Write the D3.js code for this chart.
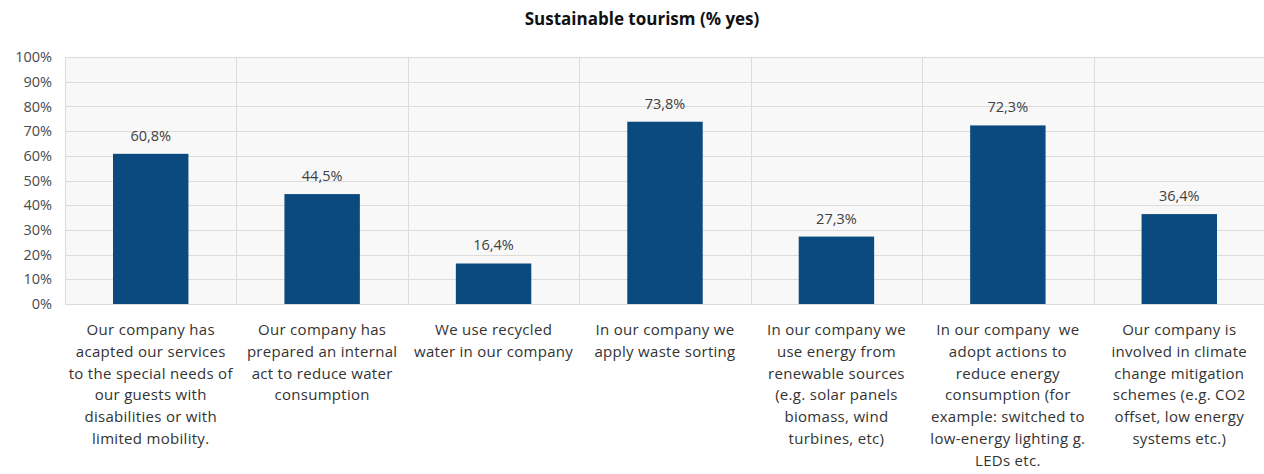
<!DOCTYPE html>
<html>
<head>
<meta charset="utf-8">
<script src="https://cdn.jsdelivr.net/npm/d3@7"></script>
<style>
  html, body { margin: 0; padding: 0; background: #ffffff; }
  svg { display: block; }
</style>
</head>
<body>
<svg id="chart" width="1264" height="474"></svg>
<script>
// Share of companies answering "yes" for each sustainable-tourism practice
const categories = [
  "Our company has|acapted our services|to the special needs of|our guests with|disabilities or with|limited mobility.",
  "Our company has|prepared an internal|act to reduce water|consumption",
  "We use recycled|water in our company",
  "In our company we|apply waste sorting",
  "In our company we|use energy from|renewable sources|(e.g. solar panels|biomass, wind|turbines, etc)",
  "In our company  we|adopt actions to|reduce energy|consumption (for|example: switched to|low-energy lighting g.|LEDs etc.",
  "Our company is|involved in climate|change mitigation|schemes (e.g. CO2|offset, low energy|systems etc.)"
];
const values = [60.8, 44.5, 16.4, 73.8, 27.3, 72.3, 36.4];
const yTicks = [0, 10, 20, 30, 40, 50, 60, 70, 80, 90, 100];
const title = "Sustainable tourism (% yes)";

const svg = d3.select("#chart");
const margin = { left: 65, right: -1, top: 57, bottom: 170 };
const W = 1264, H = 474;
const plotRight = W - margin.right;
const plotBottom = 304;

const x = d3.scaleBand()
  .domain(d3.range(categories.length))
  .range([margin.left, plotRight])
  .paddingInner(0.56)
  .paddingOuter(0.28);

const xCat = d3.scaleBand()
  .domain(d3.range(categories.length))
  .range([margin.left, plotRight]);

const y = d3.scaleLinear().domain([0, 100]).range([plotBottom, margin.top]);

// Plot background
svg.append("rect")
  .attr("x", margin.left).attr("y", margin.top)
  .attr("width", plotRight - margin.left).attr("height", plotBottom - margin.top)
  .attr("fill", "#f8f8f8");

// Horizontal gridlines
svg.append("g")
  .selectAll("line")
  .data(yTicks)
  .join("line")
  .attr("x1", margin.left).attr("x2", plotRight)
  .attr("y1", d => Math.round(y(d)) + 0.5).attr("y2", d => Math.round(y(d)) + 0.5)
  .attr("stroke", "#dcdcdc").attr("stroke-width", 1);

// Vertical gridlines between categories
svg.append("g")
  .selectAll("line")
  .data(d3.range(categories.length + 1))
  .join("line")
  .attr("x1", d => Math.round(d < categories.length ? xCat(d) : plotRight) + 0.5)
  .attr("x2", d => Math.round(d < categories.length ? xCat(d) : plotRight) + 0.5)
  .attr("y1", margin.top).attr("y2", plotBottom)
  .attr("stroke", "#dcdcdc").attr("stroke-width", 1);

// Y axis labels
const yAxis = d3.axisLeft(y).tickValues(yTicks).tickFormat(d => d + "%").tickSize(0).tickPadding(0);
const gy = svg.append("g").attr("transform", `translate(52,0)`).call(yAxis);
gy.select(".domain").remove();
gy.selectAll("text")
  .attr("font-family", "'Open Sans', sans-serif")
  .attr("font-size", 14.5)
  .attr("fill", "#4a4a4a");

// Bars
svg.append("g")
  .selectAll("rect")
  .data(values)
  .join("rect")
  .attr("x", (d, i) => x(i))
  .attr("width", x.bandwidth())
  .attr("y", d => y(d))
  .attr("height", d => y(0) - y(d))
  .attr("fill", "#0b4a7e");

// Value labels
svg.append("g")
  .selectAll("text")
  .data(values)
  .join("text")
  .attr("x", (d, i) => x(i) + x.bandwidth() / 2)
  .attr("y", d => y(d) - 13)
  .attr("text-anchor", "middle")
  .attr("font-family", "'Open Sans', sans-serif")
  .attr("font-size", 14.5)
  .attr("fill", "#404040")
  .text(d => d3.format(".1f")(d).replace(".", ",") + "%");

// Category labels (wrapped)
const catG = svg.append("g")
  .selectAll("text")
  .data(categories)
  .join("text")
  .attr("x", (d, i) => xCat(i) + xCat.bandwidth() / 2)
  .attr("y", 335)
  .attr("text-anchor", "middle")
  .attr("font-family", "'Open Sans', sans-serif")
  .attr("font-size", 15)
  .attr("letter-spacing", 0.3)
  .attr("fill", "#333");
catG.each(function(d) {
  const t = d3.select(this);
  d.split("|").forEach((line, k) => {
    t.append("tspan")
      .attr("x", t.attr("x"))
      .attr("dy", k === 0 ? 0 : 21.8)
      .attr("xml:space", "preserve")
      .text(line);
  });
});

// Title
svg.append("text")
  .attr("x", 642).attr("y", 25)
  .attr("text-anchor", "middle")
  .attr("font-family", "'Open Sans', sans-serif")
  .attr("font-weight", "bold")
  .attr("font-size", 17)
  .attr("fill", "#111")
  .text(title);
</script>
</body>
</html>
